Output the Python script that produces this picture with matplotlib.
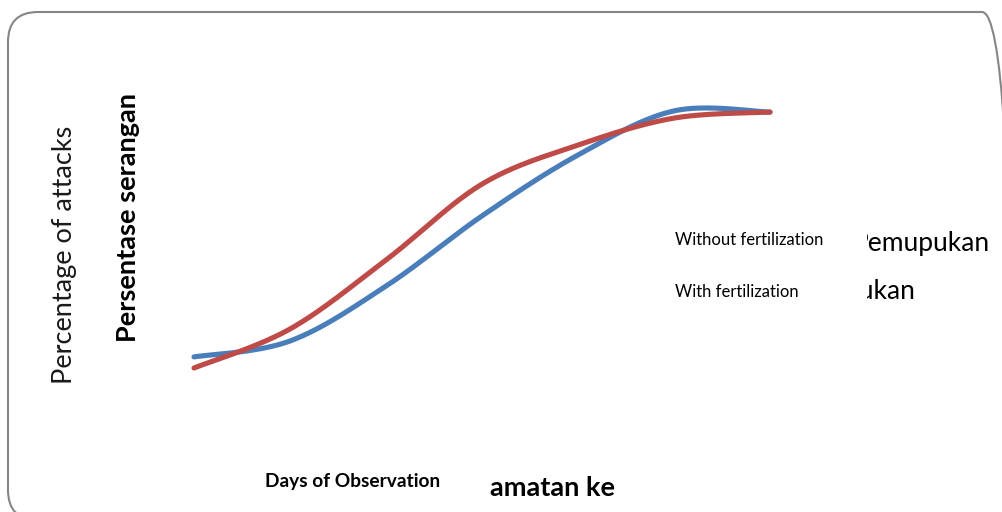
import numpy as np
import matplotlib
matplotlib.use("Agg")
import matplotlib.pyplot as plt
from matplotlib.patches import FancyBboxPatch
from matplotlib.transforms import Bbox

# ---- data (arbitrary percentage units) ----
days = [1, 2, 3, 4, 5, 6, 7]
without_fert = [27.7, 33.0, 51.3, 74.7, 95.0, 109.7, 109.3]
with_fert = [24.0, 37.0, 60.0, 85.3, 98.3, 107.3, 109.3]

series_labels = ["Without fertilization", "With fertilization"]
series_orig = ["Pemupukan", "pukan"]   # visible remains of the original legend
colors = ["#4A7EBB", "#BE4B48"]

W, H = 1003, 512
fig = plt.figure(figsize=(W / 100, H / 100), dpi=100)


def smooth(x, y, n=40):
    """Excel-like smoothed line (Catmull-Rom / Bezier with 1/6 tension)."""
    x = np.asarray(x, float)
    y = np.asarray(y, float)
    P = np.column_stack([x, y])
    out = []
    for i in range(len(P) - 1):
        p0 = P[i - 1] if i > 0 else P[i]
        p1 = P[i]
        p2 = P[i + 1]
        p3 = P[i + 2] if i + 2 < len(P) else P[i + 1]
        c1 = p1 + (p2 - p0) / 6
        c2 = p2 - (p3 - p1) / 6
        t = np.linspace(0, 1, n)[:, None]
        seg = ((1 - t) ** 3) * p1 + 3 * ((1 - t) ** 2) * t * c1 + 3 * (1 - t) * t ** 2 * c2 + t ** 3 * p2
        out.append(seg if i == 0 else seg[1:])
    s = np.vstack(out)
    return s[:, 0], s[:, 1]


# axes: x 194..770 px, y 80..440 px (top-origin) -> data 0..120
ax = fig.add_axes([194 / W, (H - 440) / H, 576 / W, 360 / H])
ax.set_xlim(1, 7)
ax.set_ylim(0, 120)
ax.axis("off")

for vals, c in zip([without_fert, with_fert], colors):
    sx, sy = smooth(days, vals)
    ax.plot(sx, sy, color=c, lw=3.7, solid_capstyle="round", clip_on=False)

# rounded chart frame (extends past the right/bottom edges)
frame = FancyBboxPatch((8, -8), 1004, 508, boxstyle="round,pad=0,rounding_size=30",
                       transform=None, fill=False, edgecolor="#868686", lw=1.5)
fig.add_artist(frame)


def ftxt(x, y, s, **kw):
    return fig.text(x / W, 1 - y / H, s, **kw)


fam = ["Lato", "DejaVu Sans"]
ftxt(65, 255, "Percentage of attacks", rotation=90, ha="center", va="center",
     fontsize=19.5, family=fam, color="#1a1a1a")
ftxt(128, 218, "Persentase serangan", rotation=90, ha="center", va="center",
     fontsize=19.5, family=fam, fontweight="bold", color="#000000")
ftxt(353, 481, "Days of Observation", ha="center", va="center",
     fontsize=13.8, family=fam, fontweight="bold", color="#000000")
ftxt(553, 488, "amatan ke", ha="center", va="center",
     fontsize=19.5, family=fam, fontweight="bold", color="#000000")

# remains of the original legend text, partly hidden behind the translations
clipB = Bbox.from_extents(867, 0, W, H)
t = ftxt(990, 243, series_orig[0], ha="right", va="center",
         fontsize=19, family=fam, color="#000000")
t.set_clip_box(clipB)
t.set_clip_on(True)
t = ftxt(915, 292, series_orig[1], ha="right", va="center",
         fontsize=19, family=fam, color="#000000")
t.set_clip_box(clipB)
t.set_clip_on(True)

ftxt(675, 240, series_labels[0], ha="left", va="center",
     fontsize=12, family=fam, color="#000000")
ftxt(675, 292, series_labels[1], ha="left", va="center",
     fontsize=12, family=fam, color="#000000")

fig.savefig("out.png", dpi=100)
